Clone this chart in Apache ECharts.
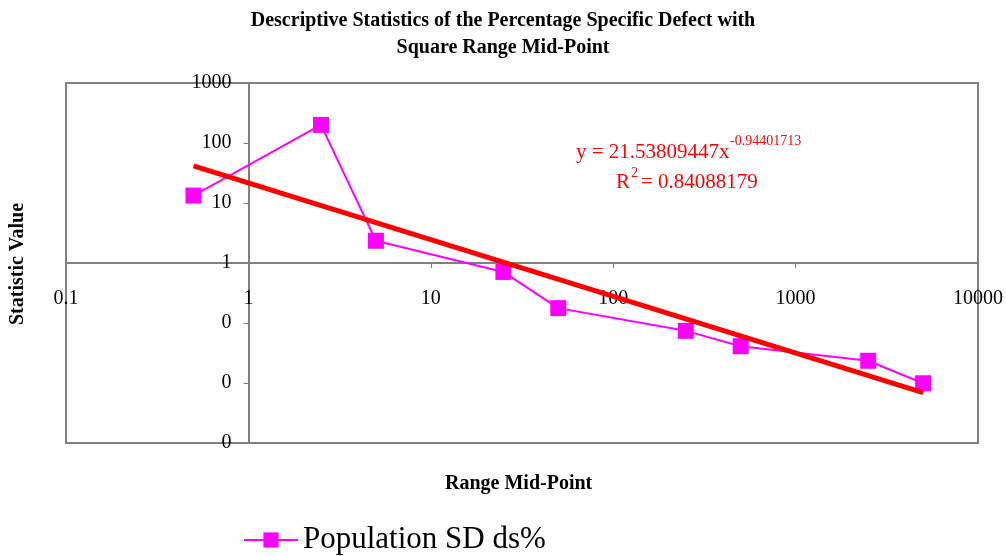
<!DOCTYPE html>
<html>
<head>
<meta charset="utf-8">
<script src="https://cdn.jsdelivr.net/npm/echarts@6/dist/echarts.min.js"></script>
<style>
    html, body { margin: 0; padding: 0; background: #fff; }
    #chart { width: 1006px; height: 556px; }
</style>
</head>
<body>
<div id="chart"></div>
<script>
    // range mid-points (x) and population SD values (y)
    var midPoints = [0.5, 2.5, 5, 25, 50, 250, 500, 2500, 5000]
    var sdValues = [13.3, 200, 2.35, 0.71, 0.177, 0.074, 0.041, 0.0235, 0.0099]
    // power trend line end points: y = 21.53809447x^-0.94401713
    var trendX = [0.5, 5000]
    var trendY = [41.4, 0.0069]

    var seriesName = 'Population SD ds%'
    var font = '"Liberation Serif", "Times New Roman", serif'
    var red = '#ff0000'

    var sdData = midPoints.map(function (x, i) { return [x, sdValues[i]] })
    var trendData = trendX.map(function (x, i) { return [x, trendY[i]] })

    // small helper for the free text (axis names, trend equation)
    function txt(text, x, y, size, color, bold, rotation) {
        return {
            type: 'text',
            x: x,
            y: y,
            rotation: rotation || 0,
            style: {
                text: text,
                fontFamily: font,
                fontSize: size,
                fontWeight: bold ? 'bold' : 'normal',
                fill: color,
                textAlign: rotation ? 'center' : 'left',
                textVerticalAlign: 'middle'
            }
        }
    }

    var myChart = echarts.init(document.getElementById('chart'))
    myChart.setOption({
        animation: false,
        textStyle: { fontFamily: font },
        title: {
            text: 'Descriptive Statistics of the Percentage Specific Defect with\nSquare Range Mid-Point',
            left: 'center',
            top: 2,
            textStyle: {
                fontFamily: font,
                fontSize: 20,
                fontWeight: 'bold',
                color: '#000',
                lineHeight: 27
            }
        },
        legend: {
            data: [seriesName],
            top: 523,
            left: 243,
            padding: 0,
            itemWidth: 54,
            itemHeight: 19,
            itemGap: 6,
            textStyle: { fontFamily: font, fontSize: 31, color: '#000', lineHeight: 34 }
        },
        grid: {
            left: 66,
            right: 28,
            top: 83,
            bottom: 113,
            show: true,
            borderColor: '#808080',
            borderWidth: 2,
            backgroundColor: '#fff'
        },
        xAxis: {
            type: 'log',
            logBase: 10,
            min: 0.1,
            max: 10000,
            offset: -180,
            axisLine: { lineStyle: { color: '#808080', width: 2 } },
            axisTick: { length: 5, lineStyle: { color: '#808080' } },
            splitLine: { show: false },
            axisLabel: {
                fontFamily: font,
                fontSize: 20,
                color: '#000',
                margin: 26,
                formatter: function (v) { return v < 1 ? '0.1' : String(Math.round(v)) }
            }
        },
        yAxis: {
            type: 'log',
            logBase: 10,
            min: 0.001,
            max: 1000,
            offset: -182.4,
            axisLine: { show: true, lineStyle: { color: '#808080', width: 2 } },
            axisTick: { show: true, length: 5, lineStyle: { color: '#808080' } },
            splitLine: { show: false },
            axisLabel: {
                fontFamily: font,
                fontSize: 20,
                color: '#000',
                margin: 17,
                formatter: function (v) { return v >= 1 ? String(Math.round(v)) : '0' }
            }
        },
        graphic: [
            txt('Range Mid-Point', 445, 484, 20, '#000', true),
            txt('Statistic Value', 18, 264, 20, '#000', true, Math.PI / 2),
            txt('y = 21.53809447x', 576, 152, 21, red),
            txt('-0.94401713', 730, 141, 14, red),
            txt('R', 616, 182, 21, red),
            txt('2', 631, 173, 14, red),
            txt('= 0.84088179', 641, 182, 21, red)
        ],
        series: [
            {
                name: seriesName,
                type: 'line',
                data: sdData,
                symbol: 'rect',
                symbolSize: 16,
                itemStyle: { color: '#ff00ff' },
                lineStyle: { color: '#ff00ff', width: 2 },
                z: 3
            },
            {
                name: 'trend',
                type: 'line',
                data: trendData,
                symbol: 'none',
                lineStyle: { color: red, width: 5 },
                z: 4
            }
        ]
    })
</script>
</body>
</html>
